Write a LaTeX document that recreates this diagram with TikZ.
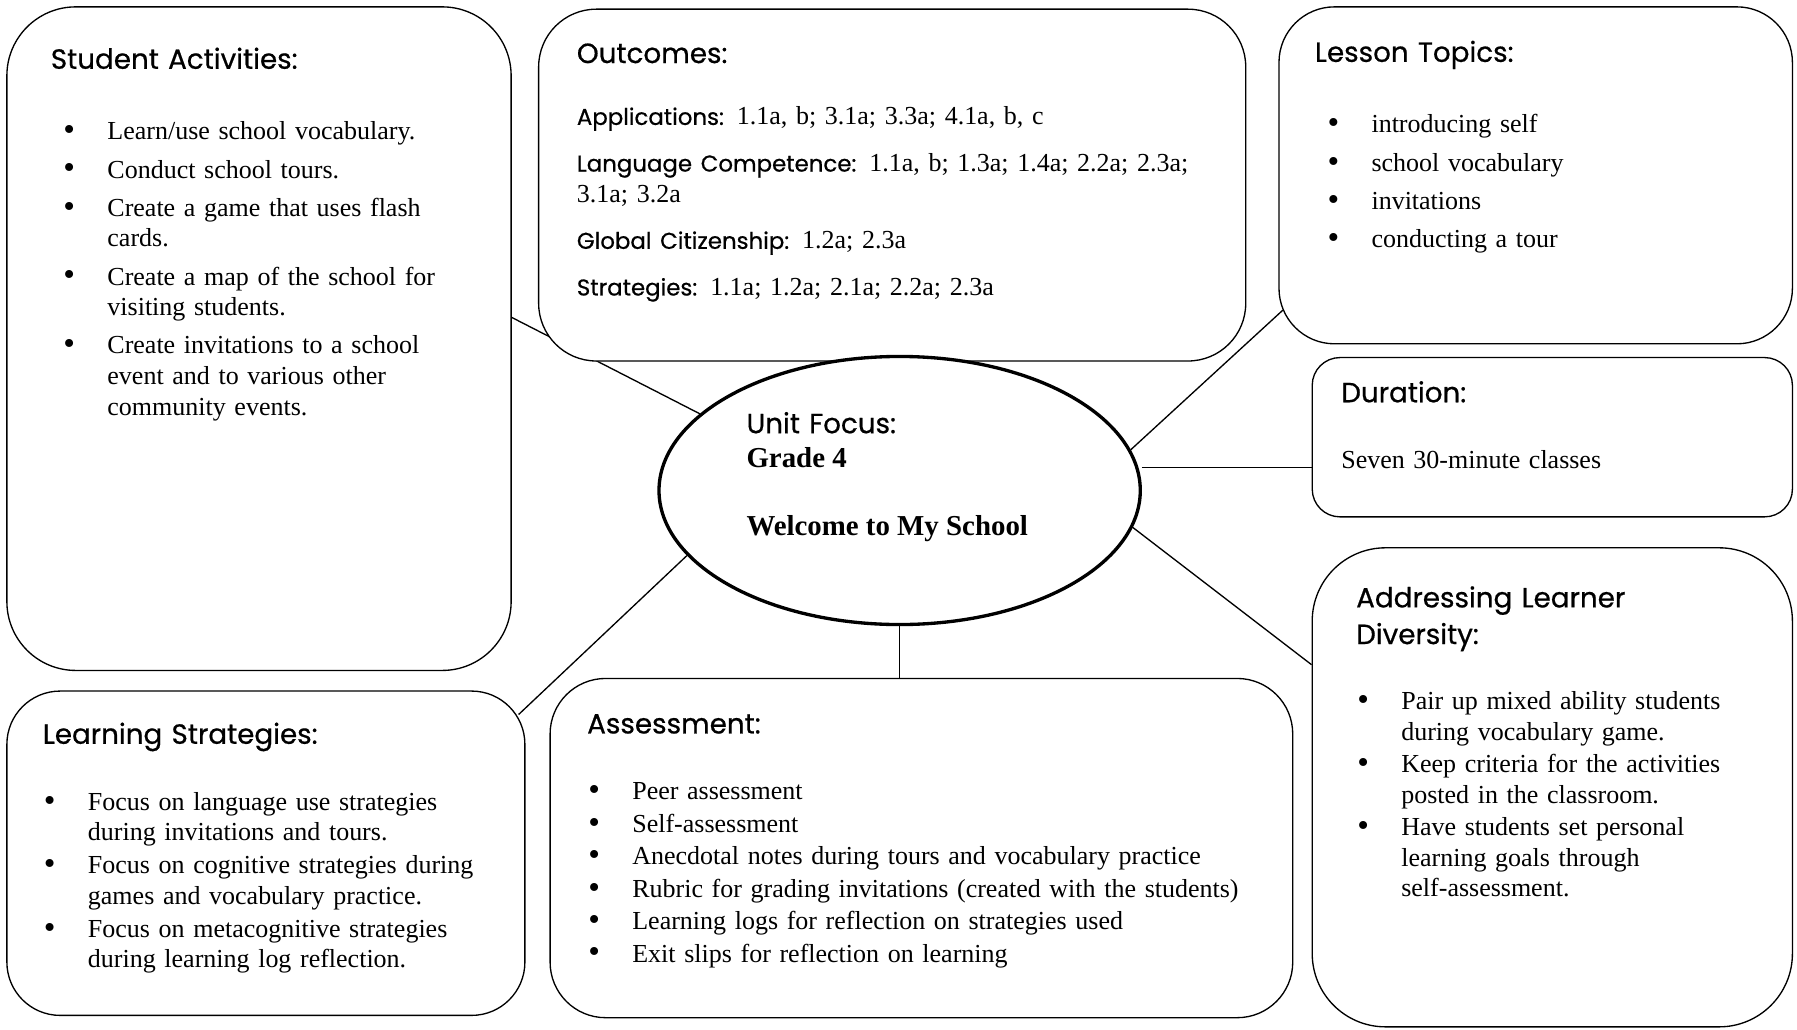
\documentclass[tikz,border=0pt]{standalone}
\usepackage{fontspec}
\setmainfont{Liberation Serif}
\newfontfamily\headfont{Poppins}[FakeBold=0.6]
\usetikzlibrary{fit,calc,shapes.geometric}

% bullet item with hanging indent
\newcommand{\itm}[1]{\hangindent=19.8pt\hangafter=1\noindent\makebox[19.8pt][l]{\raisebox{-0.4pt}{\fontsize{15}{0}\selectfont\textbullet}}#1\par}
\newcommand{\lbl}[1]{{\headfont\fontsize{10.3}{13.8}\selectfont #1}}

\pgfdeclarelayer{paper}
\pgfdeclarelayer{background}
\pgfsetlayers{paper,background,main}

\tikzset{
  box/.style={draw, fill=white, line width=0.6pt, rounded corners=#1, inner sep=0pt},
  head/.style={anchor=base west, inner sep=0pt, text width=220pt, align=left,
    font=\headfont\fontsize{12.5}{16.5}\selectfont},
  body/.style={anchor=base west, inner sep=0pt, text width=#1, align=left,
    font=\fontsize{11.7}{13.8}\selectfont},
  link/.style={line width=0.6pt},
}

\begin{document}
\begin{tikzpicture}[x=0.516pt, y=-0.516pt]
  \useasboundingbox (0,0) rectangle (1568,898);
  \begin{pgfonlayer}{paper}
    \fill[white] (0,0) rectangle (1568,898);
  \end{pgfonlayer}

  % boxes
  \node[box=31pt, fit={(6,6) (446,585)}] (act) {};
  \node[box=26pt, fit={(470,8) (1087,315)}] (outc) {};
  \node[box=25pt, fit={(1116,6) (1564,300)}] (topics) {};
  \node[box=12.5pt, fit={(1145,312) (1564,451)}] (dur) {};
  \node[box=33pt, fit={(1145,478) (1564,896)}] (diver) {};
  \node[box=25pt, fit={(480,592) (1128,888)}] (assess) {};
  \node[box=24pt, fit={(6,603) (458,886)}] (strat) {};

  % centre
  \node[ellipse, draw, fill=white, line width=1.5pt, inner sep=0pt,
    minimum width=216.7pt, minimum height=120.7pt] (focus) at (785,428) {};
  \node[head] (focus-h) at (651,378) {Unit Focus:};
  \node[anchor=base west, inner sep=0pt, font=\bfseries\fontsize{13}{15}\selectfont] (grade) at (651,408) {Grade 4};
  \node[anchor=base west, inner sep=0pt, font=\bfseries\fontsize{13}{15}\selectfont] (title) at (651,467) {Welcome to My School};

  % texts
  \node[head] (act-h) at (44,60) {Student Activities:};
  \node[body=210pt] (act-l) at (55,122) {\parskip=3.4pt
    \itm{Learn/use school vocabulary.}
    \itm{Conduct school tours.}
    \itm{Create a game that uses flash\newline cards.}
    \itm{Create a map of the school for\newline visiting students.}
    \itm{Create invitations to a school\newline event and to various other\newline community events.}};

  \node[head] (outc-h) at (503,55) {Outcomes:};
  \node[body=310pt] (outc-l) at (503,109) {\parskip=7.2pt
    \lbl{Applications:} 1.1a, b; 3.1a; 3.3a; 4.1a, b, c\par
    \lbl{Language Competence:} 1.1a, b; 1.3a; 1.4a; 2.2a; 2.3a;\newline 3.1a; 3.2a\par
    \lbl{Global Citizenship:} 1.2a; 2.3a\par
    \lbl{Strategies:} 1.1a; 1.2a; 2.1a; 2.2a; 2.3a};

  \node[head] (topics-h) at (1147,54) {Lesson Topics:};
  \node[body=200pt] (topics-l) at (1158,116) {\parskip=3.4pt
    \itm{introducing self}
    \itm{school vocabulary}
    \itm{invitations}
    \itm{conducting a tour}};

  \node[head] (dur-h) at (1170,351) {Duration:};
  \node[body=200pt] (dur-t) at (1170,409) {Seven 30-minute classes};

  \node[head] (diver-h) at (1183,530) {Addressing Learner\newline Diversity:};
  \node[body=200pt] (diver-l) at (1184,619) {\parskip=0.8pt
    \itm{Pair up mixed ability students\newline during vocabulary game.}
    \itm{Keep criteria for the activities\newline posted in the classroom.}
    \itm{Have students set personal\newline learning goals through\newline self-assessment.}};

  \node[head] (assess-h) at (512,640) {Assessment:};
  \node[body=330pt] (assess-l) at (513,698) {\parskip=0.8pt
    \itm{Peer assessment}
    \itm{Self-assessment}
    \itm{Anecdotal notes during tours and vocabulary practice}
    \itm{Rubric for grading invitations (created with the students)}
    \itm{Learning logs for reflection on strategies used}
    \itm{Exit slips for reflection on learning}};

  \node[head] (strat-h) at (37,649) {Learning Strategies:};
  \node[body=220pt] (strat-l) at (38,707) {\parskip=1pt
    \itm{Focus on language use strategies\newline during invitations and tours.}
    \itm{Focus on cognitive strategies during\newline games and vocabulary practice.}
    \itm{Focus on metacognitive strategies\newline during learning log reflection.}};

  % spokes
  \begin{pgfonlayer}{background}
    \draw[link] (focus.159) -- (act.east |- 0,277);
    \draw[link] (focus.10) -- ($(topics.south west)+(4,-30)$);
    \draw[link] (focus.east |- 0,408) -- (dur.west |- 0,408);
    \draw[link] (focus.-9) -- (diver.west |- 0,580);
    \draw[link] (focus.south) -- (focus.south |- assess.north);
    \draw[link] (focus.197) -- ($(strat.north east)+(-6,21)$);
  \end{pgfonlayer}
\end{tikzpicture}
\end{document}
